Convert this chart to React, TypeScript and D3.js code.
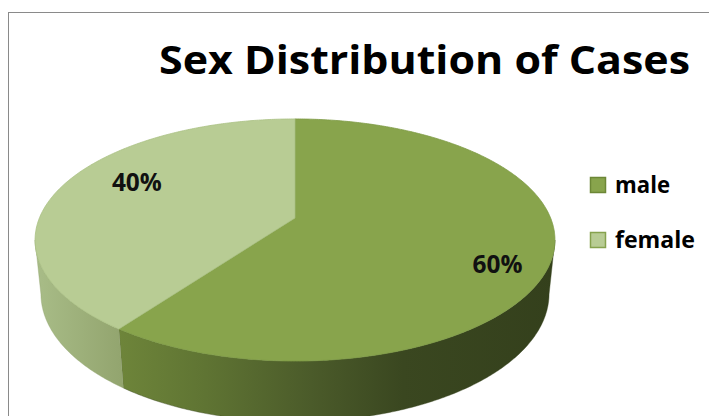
import React from "react";
import * as d3 from "d3";

const categories = ["male", "female"];
const values = [60, 40];
const percentLabels = ["60%", "40%"];
const title = "Sex Distribution of Cases";

const W = 709;
const H = 416;

// perspective projection parameters (3D pie look)
const CX = 295;
const CY = 218;
const FK = 255.6;
const K = 0.2045;
const SA = 0.458;
const CA = 0.889;
const THICK = 0.238;

const topColors = ["#88A44C", "#B8CC94"];
const legendStroke = ["#6C8736", "#86A24E"];

function project(theta: number, p: number, yw: number): [number, number] {
  const x3 = p * Math.sin(theta);
  const z3 = -p * Math.cos(theta);
  const y3 = yw;
  const depth = 1 - K * (y3 * SA + z3 * CA);
  const down = z3 * SA - y3 * CA;
  return [CX + (FK * x3) / depth, CY + (FK * down) / depth];
}

function arcPoints(a0: number, a1: number, p: number, yw: number) {
  const n = Math.max(4, Math.ceil(Math.abs(a1 - a0) / 0.01));
  const pts: [number, number][] = [];
  for (let i = 0; i <= n; i++) {
    const t = a0 + ((a1 - a0) * i) / n;
    pts.push(project(t, p, yw));
  }
  return pts;
}

const line = d3.line();

export default function App() {
  const pie = d3.pie<number>().sort(null).value((d) => d);
  const arcs = pie(values);
  const thetaS = Math.acos(-K * CA);
  const visLo = thetaS;
  const visHi = 2 * Math.PI - thetaS;

  const labelNudge: [number, number][] = [
    [-1, 16],
    [28, -8],
  ];

  return (
    <svg
      width={W}
      height={H}
      style={{ position: "absolute", left: 0, top: 0 }}
      fontFamily="'Open Sans', sans-serif"
    >
      <defs>
        <linearGradient id="sideMale" gradientUnits="userSpaceOnUse" x1={118} y1={0} x2={556} y2={0}>
          <stop offset="0" stopColor="#6E853A" />
          <stop offset="0.2" stopColor="#5F7433" />
          <stop offset="0.44" stopColor="#4B5B2A" />
          <stop offset="0.65" stopColor="#3A4720" />
          <stop offset="1" stopColor="#34401C" />
        </linearGradient>
        <linearGradient id="sideFemale" gradientUnits="userSpaceOnUse" x1={34} y1={0} x2={120} y2={0}>
          <stop offset="0" stopColor="#A9BD88" />
          <stop offset="1" stopColor="#93A56F" />
        </linearGradient>
      </defs>
      <rect x={0} y={0} width={W} height={H} fill="#ffffff" />
      <rect x={8.5} y={12.5} width={760} height={460} fill="#ffffff" stroke="#8A8A8A" strokeWidth={1} />

      {/* side walls */}
      {arcs.map((a, i) => {
        const lo = Math.max(a.startAngle, visLo);
        const hi = Math.min(a.endAngle, visHi);
        if (hi <= lo) return null;
        const topPts = arcPoints(lo, hi, 1, 0);
        const botPts = arcPoints(hi, lo, 1, -THICK);
        const d = line([...topPts, ...botPts]) + "Z";
        return (
          <path
            key={"side" + i}
            d={d}
            fill={i === 0 ? "url(#sideMale)" : "url(#sideFemale)"}
            stroke={i === 0 ? "#3a4720" : "#93A56F"}
            strokeWidth={0.4}
          />
        );
      })}

      {/* top faces */}
      {arcs.map((a, i) => {
        const pts = [project(0, 0, 0), ...arcPoints(a.startAngle, a.endAngle, 1, 0)];
        const d = line(pts) + "Z";
        return (
          <path
            key={"top" + i}
            d={d}
            fill={topColors[i]}
            stroke={i === 0 ? "#7E9A45" : "#A9C083"}
            strokeWidth={0.8}
            strokeLinejoin="round"
          />
        );
      })}

      {/* data labels */}
      {arcs.map((a, i) => {
        const mid = (a.startAngle + a.endAngle) / 2;
        const [lx, ly] = project(mid, 0.8, 0);
        return (
          <text
            key={"lab" + i}
            x={lx + labelNudge[i][0]}
            y={ly + labelNudge[i][1] + 9}
            textAnchor="middle"
            fontSize={25}
            fontWeight={700}
            fill="#111"
            textLength={50}
            lengthAdjust="spacingAndGlyphs"
          >
            {percentLabels[i]}
          </text>
        );
      })}

      {/* title */}
      <text
        x={159}
        y={74}
        fontSize={40}
        fontWeight={700}
        fill="#000"
        textLength={531}
        lengthAdjust="spacingAndGlyphs"
      >
        {title}
      </text>

      {/* legend */}
      {categories.map((c, i) => (
        <g key={"leg" + i} transform={`translate(590, ${177 + i * 55})`}>
          <rect x={0.5} y={0.5} width={15} height={15} fill={topColors[i]} stroke={legendStroke[i]} strokeWidth={1.5} />
          <text
            x={25}
            y={15.5}
            fontSize={24}
            fontWeight={700}
            fill="#000"
            textLength={i === 0 ? 55 : 80}
            lengthAdjust="spacingAndGlyphs"
          >
            {c}
          </text>
        </g>
      ))}
    </svg>
  );
}
